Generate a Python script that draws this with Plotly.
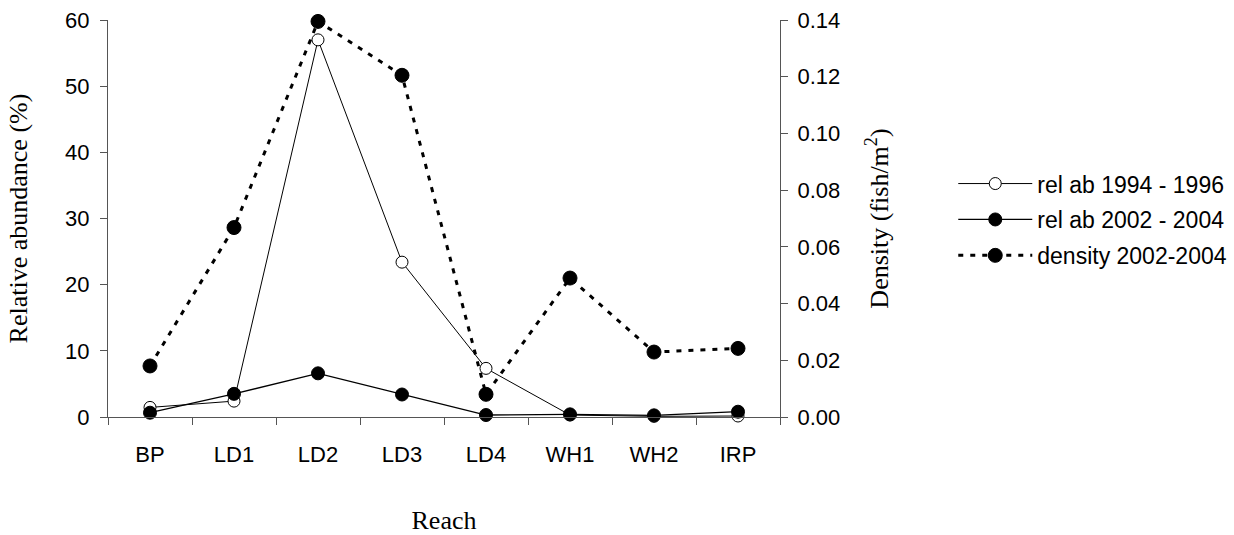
import plotly.graph_objects as go

reaches = ["BP", "LD1", "LD2", "LD3", "LD4", "WH1", "WH2", "IRP"]
relab_1994_1996 = [1.45, 2.4, 57.0, 23.4, 7.35, 0.3, 0.1, 0.15]
relab_2002_2004 = [0.65, 3.5, 6.6, 3.4, 0.3, 0.4, 0.25, 0.8]
density_2002_2004 = [0.018, 0.0668, 0.1395, 0.1205, 0.008, 0.049, 0.0229, 0.0242]

fig = go.Figure()

fig.add_trace(go.Scatter(
    x=reaches, y=density_2002_2004, yaxis="y2", name="density 2002-2004",
    mode="lines+markers", legendrank=3, legendgroup="c", cliponaxis=False,
    line=dict(color="black", width=3, dash="5px,7px"),
    marker=dict(symbol="circle", size=14, color="black", line=dict(color="black", width=1)),
))
fig.add_trace(go.Scatter(
    x=reaches, y=relab_1994_1996, name="rel ab 1994 - 1996",
    mode="lines+markers", legendrank=1, legendgroup="a", cliponaxis=False,
    line=dict(color="black", width=1),
    marker=dict(symbol="circle", size=12, color="white", line=dict(color="black", width=1)),
))
fig.add_trace(go.Scatter(
    x=reaches, y=relab_2002_2004, name="rel ab 2002 - 2004",
    mode="lines+markers", legendrank=2, legendgroup="b", cliponaxis=False,
    line=dict(color="black", width=1.3),
    marker=dict(symbol="circle", size=13, color="black", line=dict(color="black", width=1)),
))

tickfont = dict(family="Liberation Sans, Arial", size=22, color="black")
titlefont = dict(family="Liberation Serif, Times New Roman", size=26, color="black")

fig.update_layout(
    width=1234, height=535,
    margin=dict(l=108, r=454, t=20, b=118, autoexpand=False),
    paper_bgcolor="white", plot_bgcolor="white",
    showlegend=True,
    legend=dict(
        xref="container", yref="container",
        x=0.7725, y=0.697, xanchor="left", yanchor="top",
        font=dict(family="Liberation Sans, Arial", size=23, color="black"),
        itemwidth=74, tracegroupgap=3, traceorder="grouped",
        bgcolor="rgba(0,0,0,0)",
    ),
    xaxis=dict(
        type="category", categoryorder="array", categoryarray=reaches,
        range=[-0.5, 7.5], tickson="boundaries",
        ticks="outside", ticklen=7, tickcolor="#555", tickwidth=1,
        ticklabelstandoff=18,
        showline=True, linecolor="#555", linewidth=1,
        showgrid=False, zeroline=False, tickfont=tickfont,
        title=dict(text="Reach", font=titlefont, standoff=44),
    ),
    yaxis=dict(
        range=[0, 60], dtick=10, tick0=0,
        ticks="outside", ticklen=7, tickcolor="#555", tickwidth=1,
        ticklabelstandoff=6,
        showline=True, linecolor="#555", linewidth=1,
        showgrid=False, zeroline=False, tickfont=tickfont,
        title=dict(text="Relative abundance (%)", font=titlefont, standoff=30),
    ),
    yaxis2=dict(
        overlaying="y", side="right",
        range=[0, 0.14], dtick=0.02, tick0=0, tickformat=".2f",
        ticks="outside", ticklen=7, tickcolor="#555", tickwidth=1,
        ticklabelstandoff=5,
        showline=True, linecolor="#555", linewidth=1,
        showgrid=False, zeroline=False, tickfont=tickfont,
        title=dict(text="Density (fish/m<sup>2</sup>)", font=titlefont, standoff=30),
    ),
)

fig.write_html("out.html")
